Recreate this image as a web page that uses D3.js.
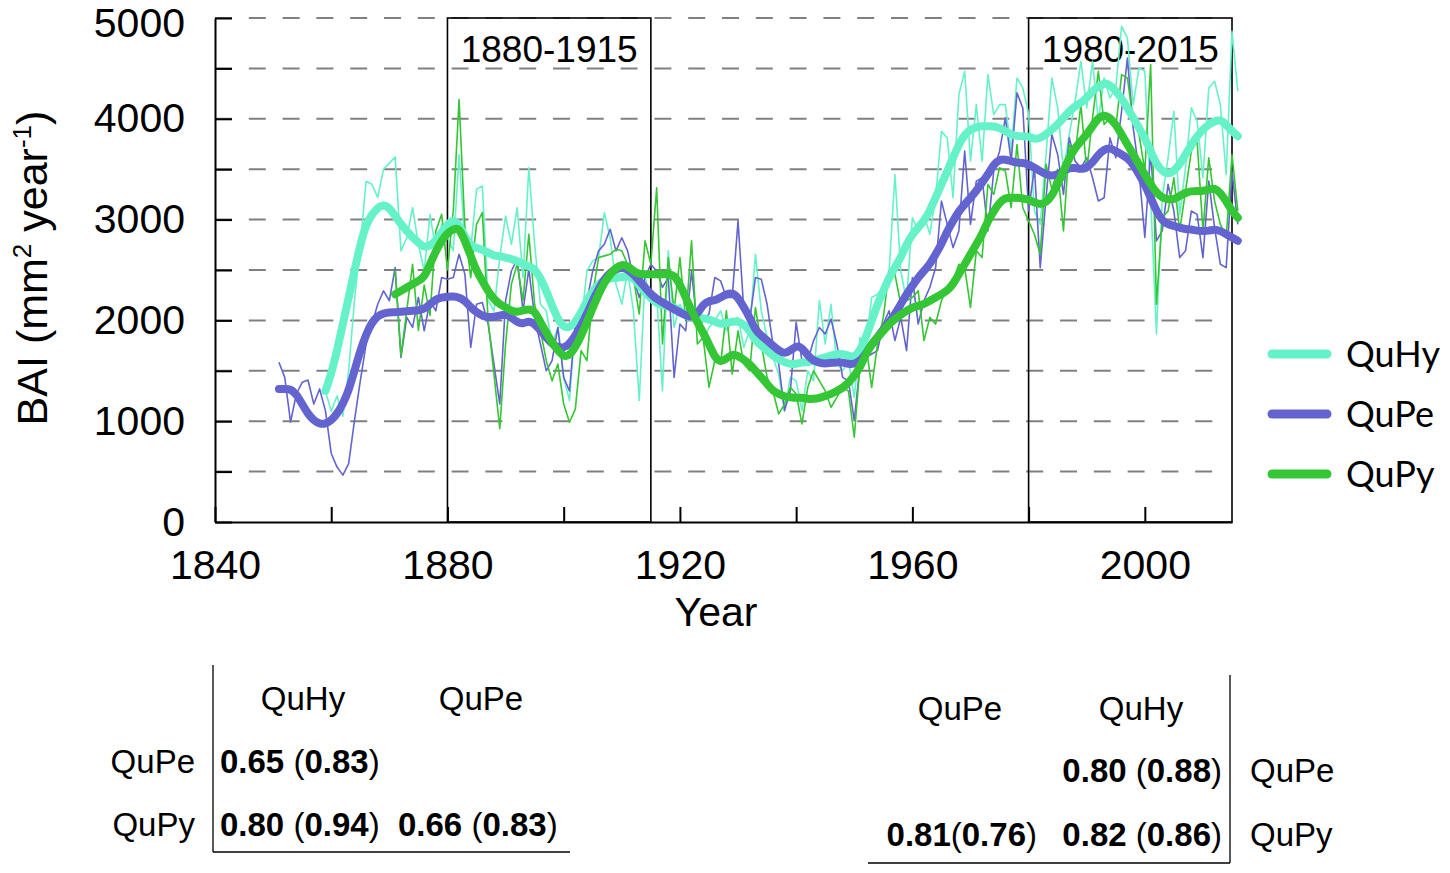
<!DOCTYPE html>
<html>
<head>
<meta charset="utf-8">
<script src="https://cdn.jsdelivr.net/npm/d3@7"></script>
<style>
  body { margin: 0; background: #fff; }
  text { font-family: "Liberation Sans", Arial, sans-serif; fill: #000; }
  .legend text { font-family: Lato, "Open Sans", sans-serif; }
</style>
</head>
<body>
<div id="chart"></div>
<script>

// data

const FIRST_YEAR_QUPE = 1851;
const FIRST_YEAR_QUHY = 1859;
const FIRST_YEAR_QUPY = 1871;

// yearly BAI values
const QUPE_ANNUAL = [
  1584, 1435, 990, 1270, 1386, 1409, 1170, 1320, 1105,
  680, 545, 465, 580, 1006, 1400, 1765, 1963, 2160, 2293,
  2195, 2524, 1633, 2030, 1930, 2228, 1897, 2195, 2095, 2425,
  2409, 2425, 2656, 2458, 1733, 2160, 2178, 1964, 1567, 1170,
  2195, 2490, 2607, 2095, 2508, 2030, 1766, 1500, 1600, 1930,
  1435, 1300, 1980, 1900, 2195, 2490, 2690, 2755, 2904, 2690,
  2820, 2690, 2425, 2228, 2425, 2557, 2490, 2327, 2425, 1435,
  1964, 1897, 2490, 1930, 1997, 2063, 2425, 2392, 2228, 2228,
  2987, 2095, 1997, 2425, 2409, 2160, 1766, 1567, 1105, 1300,
  1980, 1600, 1600, 1800, 1930, 1865, 2013, 1766, 1435, 1400,
  1006, 1567, 1633, 1667, 1700, 1964, 2095, 1800, 2030, 1700,
  2425, 1964, 2195, 2327, 2524, 3184, 2953, 2722, 2888, 3679,
  2953, 3382, 3415, 2888, 3481, 3679, 4010, 3580, 4257, 4108,
  3085, 3514, 2524, 3217, 3845, 3646, 3250, 3811, 3580, 3514,
  3613, 3415, 3184, 3217, 3811, 3613, 4075, 4603, 3910, 3481,
  2822, 3679, 2789, 2888, 3350, 3085, 2623, 2690, 3085, 3052,
  2623, 3382, 2920, 2557, 2524, 3481, 2953
];

const QUHY_ANNUAL = [
  1300,
  1100, 1250, 1050, 1500, 2200, 2755, 3380, 3350, 3220, 3500,
  3560, 3620, 2690, 2820, 3120, 2755, 2490, 3050, 2700, 2950,
  2820, 2690, 3646, 2755, 2700, 3300, 3333, 2195, 2095, 2623,
  3036, 2755, 3118, 2425, 3514, 2755, 2160, 2095, 1766, 1930,
  1435, 1205, 1964, 1964, 2490, 2590, 2623, 3069, 2820, 2360,
  2160, 2490, 2095, 1205, 2425, 2228, 2260, 1300, 2690, 1930,
  2160, 1997, 2160, 1930, 1800, 1930, 1997, 2095, 1897, 1997,
  2030, 1733, 1900, 2656, 2095, 1832, 1633, 1468, 1105, 1435,
  1400, 1105, 1500, 1400, 2195, 1766, 2160, 1567, 1500, 1600,
  1237, 1830, 1765, 2228, 2260, 2327, 2490, 3448, 2490, 2195,
  3019, 2888, 3052, 2855, 3217, 3877, 3811, 3217, 4240, 4471,
  3580, 4141, 3580, 4438, 4042, 4141, 4141, 3679, 4405, 4306,
  4050, 3085, 2953, 3646, 4405, 4108, 3481, 3845, 4174, 4570,
  4108, 4570, 3976, 4405, 4207, 4306, 4917, 4800, 4141, 4505,
  4471, 3217, 1865, 3217, 3613, 4075, 3052, 3514, 4108, 3976,
  3415, 4306, 4372, 4141, 3448, 4867, 4273
];

const QUPY_ANNUAL = [
  2500, 1650, 2100, 2557, 1900, 2350, 2050, 2888, 3052,
  2500, 3085, 4190, 2920, 2425, 2953, 3070, 2000, 1470, 925,
  1765, 2360, 2557, 2195, 2855, 2160, 1900, 1600, 1400, 1567,
  1170, 990, 1120, 1700, 1600, 2260, 2623, 2640, 2656, 2706,
  2690, 2557, 2425, 2063, 2790, 2557, 3316, 1766, 2623, 2095,
  2623, 1997, 2790, 1766, 1830, 1336, 1600, 1567, 2095, 1468,
  1897, 1567, 1500, 2128, 1766, 1435, 1300, 1072, 1170, 1336,
  1270, 973, 1336, 1500, 1400, 1300, 1138, 1237, 1336, 1300,
  841, 1567, 1765, 1336, 1765, 2030, 2490, 2458, 2160, 2195,
  2228, 2293, 1800, 2030, 1964, 2195, 2327, 2392, 2557, 2524,
  2128, 2690, 2623, 3350, 3250, 3514, 3481, 3118, 3745, 3118,
  2987, 2855, 2656, 3550, 3300, 3500, 2888, 3745, 3646, 4141,
  3481, 4010, 4471, 3943, 4010, 3910, 4438, 4405, 3976, 3845,
  3481, 4538, 2160, 3019, 3085, 3415, 2888, 3283, 3679, 3778,
  2888, 3613, 3184, 2953, 2822, 3646, 3085
];

// smoothed trend (thick lines)
const QUPE_TREND = [
  1320, 1320, 1320, 1270, 1170, 1072, 1006, 973, 973,
  1006, 1072, 1170, 1303, 1500, 1700, 1864, 1980, 2046, 2069,
  2079, 2080, 2085, 2090, 2095, 2100, 2112, 2160, 2211, 2228,
  2234, 2240, 2228, 2195, 2128, 2080, 2046, 2030, 2036, 2046,
  2063, 2030, 1980, 1964, 1997, 1964, 1898, 1832, 1766, 1733,
  1726, 1766, 1848, 1947, 2063, 2195, 2310, 2410, 2475, 2508,
  2525, 2508, 2458, 2392, 2327, 2260, 2211, 2180, 2145, 2110,
  2080, 2050, 2030, 2060, 2160, 2195, 2195, 2228, 2260, 2277,
  2228, 2130, 2030, 1900, 1850, 1800, 1750, 1700, 1667, 1700,
  1750, 1733, 1650, 1600, 1580, 1570, 1580, 1584, 1584, 1567,
  1567, 1600, 1667, 1765, 1830, 1914, 1980, 2063, 2160, 2260,
  2343, 2425, 2490, 2557, 2656, 2755, 2888, 2987, 3085, 3150,
  3217, 3283, 3366, 3448, 3547, 3597, 3597, 3580, 3564, 3564,
  3547, 3514, 3481, 3448, 3432, 3448, 3481, 3514, 3514, 3498,
  3514, 3564, 3646, 3696, 3712, 3679, 3646, 3613, 3547, 3448,
  3350, 3217, 3085, 2987, 2953, 2937, 2920, 2904, 2904, 2888,
  2888, 2888, 2904, 2888, 2855, 2822, 2789
];

const QUHY_TREND = [
  1300,
  1468, 1700, 1963, 2228, 2490, 2755, 2953, 3052, 3118, 3150,
  3118, 3036, 2953, 2888, 2822, 2772, 2722, 2740, 2790, 2870,
  2953, 3003, 2950, 2830, 2740, 2720, 2700, 2673, 2640, 2640,
  2623, 2610, 2590, 2557, 2540, 2508, 2425, 2293, 2145, 2013,
  1930, 1930, 1980, 2079, 2195, 2293, 2360, 2400, 2420, 2420,
  2430, 2440, 2420, 2350, 2280, 2220, 2170, 2150, 2140, 2130,
  2100, 2050, 2030, 2030, 2020, 2010, 1990, 1960, 1975, 1990,
  1990, 1960, 1900, 1800, 1750, 1700, 1650, 1617, 1584, 1567,
  1567, 1584, 1584, 1600, 1617, 1633, 1650, 1667, 1667, 1650,
  1633, 1700, 1830, 1997, 2160, 2293, 2425, 2524, 2623, 2755,
  2855, 2920, 2987, 3085, 3217, 3350, 3481, 3613, 3745, 3845,
  3894, 3917, 3927, 3927, 3927, 3910, 3877, 3845, 3828, 3828,
  3828, 3795, 3811, 3845, 3894, 3943, 4010, 4075, 4125, 4158,
  4207, 4273, 4323, 4356, 4340, 4273, 4207, 4108, 4010, 3910,
  3811, 3679, 3547, 3481, 3448, 3481, 3547, 3646, 3745, 3828,
  3894, 3943, 3976, 3993, 3943, 3877, 3828
];

const QUPY_TREND = [
  2260, 2293, 2327, 2360, 2392, 2425, 2557, 2690, 2790,
  2870, 2904, 2920, 2790, 2640, 2490, 2390, 2290, 2210, 2160,
  2130, 2095, 2080, 2100, 2112, 2095, 1980, 1880, 1780, 1700,
  1640, 1650, 1732, 1848, 1980, 2128, 2260, 2376, 2458, 2524,
  2557, 2540, 2490, 2458, 2458, 2458, 2458, 2458, 2460, 2450,
  2360, 2228, 2095, 1980, 1880, 1765, 1633, 1584, 1620, 1667,
  1650, 1610, 1567, 1500, 1435, 1370, 1300, 1270, 1244, 1237,
  1230, 1237, 1220, 1220, 1230, 1250, 1270, 1300, 1330, 1380,
  1450, 1534, 1667, 1765, 1830, 1897, 1963, 2013, 2056, 2095,
  2128, 2145, 2160, 2195, 2228, 2260, 2293, 2360, 2458, 2557,
  2656, 2755, 2855, 2987, 3085, 3168, 3217, 3217, 3217, 3210,
  3200, 3168, 3150, 3168, 3234, 3350, 3481, 3613, 3712, 3778,
  3845, 3927, 4010, 4042, 4010, 3943, 3845, 3745, 3646, 3547,
  3448, 3350, 3267, 3217, 3200, 3200, 3234, 3267, 3283, 3283,
  3283, 3300, 3316, 3267, 3184, 3085, 3019
];

const SERIES_NAMES = ["QuHy", "QuPe", "QuPy"];

// axis ticks and labels
const Y_TICKS = [0, 500, 1000, 1500, 2000, 2500, 3000, 3500, 4000, 4500, 5000];
const Y_LABELS = [0, 1000, 2000, 3000, 4000, 5000];
const X_TICKS = [1840, 1860, 1880, 1900, 1920, 1940, 1960, 1980, 2000];
const X_LABELS = [1840, 1880, 1920, 1960, 2000];

// highlighted periods
const PERIODS = [[1880, 1915], [1980, 2015]];

// correlation tables (bold value, value in brackets)
const TABLE_EARLY_COLS = ["QuHy", "QuPe"];
const TABLE_EARLY_ROWS = ["QuPe", "QuPy"];
const TABLE_EARLY_VALUES = [
  [["0.65", "0.83"], null],
  [["0.80", "0.94"], ["0.66", "0.83"]]
];
const TABLE_LATE_COLS = ["QuPe", "QuHy"];
const TABLE_LATE_ROWS = ["QuPe", "QuPy"];
const TABLE_LATE_VALUES = [
  [null, ["0.80", "0.88"]],
  [["0.81", "0.76"], ["0.82", "0.86"]]
];


// frame constants

const FRAME_WIDTH = 1450;
const FRAME_HEIGHT = 873;
const PLOT = {left: 215, right: 1232, top: 18, bottom: 522};
const COLORS = {QuHy: "#66F2C8", QuPe: "#6464D0", QuPy: "#34C634"};

const FRAME = d3.select("#chart")
                .append("svg")
                  .attr("width", FRAME_WIDTH)
                  .attr("height", FRAME_HEIGHT);

const X_SCALE = d3.scaleLinear()
                  .domain([1840, 2015])
                  .range([PLOT.left, PLOT.right]);

const Y_SCALE = d3.scaleLinear()
                  .domain([0, 5000])
                  .range([PLOT.bottom, PLOT.top]);


// dashed grid (first dash sits under the black tick)
FRAME.append("g")
  .selectAll("line")
  .data(Y_TICKS.filter((d) => d > 0))
  .enter()
  .append("line")
    .attr("x1", PLOT.left)
    .attr("x2", 1213)
    .attr("y1", (d) => Y_SCALE(d))
    .attr("y2", (d) => Y_SCALE(d))
    .attr("stroke", "#808080")
    .attr("stroke-width", 2)
    .attr("stroke-dasharray", "17,16.8");


// y axis, ticks pointing into the plot
const Y_AXIS = FRAME.append("g")
  .attr("transform", "translate(" + PLOT.left + ",0)")
  .call(d3.axisLeft(Y_SCALE)
          .tickValues(Y_TICKS)
          .tickSize(-17)
          .tickSizeOuter(0)
          .tickPadding(30)
          .tickFormat((d) => Y_LABELS.includes(d) ? d : ""));

// x axis, ticks pointing up
const X_AXIS = FRAME.append("g")
  .attr("transform", "translate(0," + PLOT.bottom + ")")
  .call(d3.axisBottom(X_SCALE)
          .tickValues(X_TICKS)
          .tickSize(-15)
          .tickSizeOuter(0)
          .tickPadding(28)
          .tickFormat((d) => X_LABELS.includes(d) ? d : ""));

[Y_AXIS, X_AXIS].forEach((ax) => {
  ax.select(".domain").attr("stroke", "#000").attr("stroke-width", 2);
  ax.selectAll(".tick line").attr("stroke", "#000").attr("stroke-width", 2);
  ax.selectAll(".tick text")
    .attr("font-size", "41px")
    .attr("font-family", "Liberation Sans, Arial, sans-serif")
    .attr("fill", "#000");
});

// the top label would touch the page edge, nudge it down a little
Y_AXIS.selectAll(".tick text")
  .filter((d) => d === 5000)
  .attr("dy", "0.45em");

// axis titles
FRAME.append("text")
  .attr("x", 716)
  .attr("y", 626)
  .attr("text-anchor", "middle")
  .attr("font-size", "41px")
  .text("Year");

const Y_TITLE = FRAME.append("text")
  .attr("transform", "translate(47,268) rotate(-90)")
  .attr("text-anchor", "middle")
  .attr("font-size", "43px");
Y_TITLE.append("tspan").text("BAI (mm");
Y_TITLE.append("tspan").attr("font-size", "26px").attr("dy", -16).text("2");
Y_TITLE.append("tspan").attr("dy", 16).text(" year");
Y_TITLE.append("tspan").attr("font-size", "26px").attr("dy", -16).text("-1");
Y_TITLE.append("tspan").attr("dy", 16).text(")");


// period boxes
FRAME.append("g")
  .selectAll("rect")
  .data(PERIODS)
  .enter()
  .append("rect")
    .attr("x", (d) => X_SCALE(d[0]))
    .attr("y", Y_SCALE(5000))
    .attr("width", (d) => X_SCALE(d[1]) - X_SCALE(d[0]))
    .attr("height", Y_SCALE(0) - Y_SCALE(5000))
    .attr("fill", "none")
    .attr("stroke", "#000")
    .attr("stroke-width", 1.6);

FRAME.append("g")
  .selectAll("text")
  .data(PERIODS)
  .enter()
  .append("text")
    .attr("x", (d) => (X_SCALE(d[0]) + X_SCALE(d[1])) / 2)
    .attr("y", 62)
    .attr("text-anchor", "middle")
    .attr("font-size", "37px")
    .text((d) => d[0] + "-" + d[1]);


// series lines
function toPoints(values, start) {
  return values.map((v, i) => ({year: start + i, value: v}));
}

const SERIES = [
  {name: "QuHy", annual: toPoints(QUHY_ANNUAL, FIRST_YEAR_QUHY), trend: toPoints(QUHY_TREND, FIRST_YEAR_QUHY)},
  {name: "QuPe", annual: toPoints(QUPE_ANNUAL, FIRST_YEAR_QUPE), trend: toPoints(QUPE_TREND, FIRST_YEAR_QUPE)},
  {name: "QuPy", annual: toPoints(QUPY_ANNUAL, FIRST_YEAR_QUPY), trend: toPoints(QUPY_TREND, FIRST_YEAR_QUPY)}
];

const THIN_LINE = d3.line()
  .x((d) => X_SCALE(d.year))
  .y((d) => Y_SCALE(d.value));

const THICK_LINE = d3.line()
  .curve(d3.curveBasis)
  .x((d) => X_SCALE(d.year))
  .y((d) => Y_SCALE(d.value));

FRAME.append("g")
  .selectAll("path")
  .data(SERIES)
  .enter()
  .append("path")
    .attr("d", (d) => THIN_LINE(d.annual))
    .attr("fill", "none")
    .attr("stroke", (d) => COLORS[d.name])
    .attr("stroke-width", 1.6)
    .attr("stroke-linejoin", "round");

FRAME.append("g")
  .selectAll("path")
  .data(SERIES)
  .enter()
  .append("path")
    .attr("d", (d) => THICK_LINE(d.trend))
    .attr("fill", "none")
    .attr("stroke", (d) => COLORS[d.name])
    .attr("stroke-width", 8)
    .attr("stroke-linejoin", "round")
    .attr("stroke-linecap", "round");


// legend
const LEGEND = FRAME.append("g").attr("class", "legend");
const LEGEND_ITEMS = LEGEND.selectAll("g")
  .data(SERIES_NAMES)
  .enter()
  .append("g")
    .attr("transform", (d, i) => "translate(1272," + (354 + i * 60) + ")");

LEGEND_ITEMS.append("line")
  .attr("x1", 0)
  .attr("x2", 55)
  .attr("stroke", (d) => COLORS[d])
  .attr("stroke-width", 9)
  .attr("stroke-linecap", "round");

LEGEND_ITEMS.append("text")
  .attr("x", 74)
  .attr("dy", "0.36em")
  .attr("font-size", "36px")
  .text((d) => d);


// correlation tables
function addCell(g, x, y, anchor, pair) {
  const t = g.append("text")
    .attr("x", x)
    .attr("y", y)
    .attr("text-anchor", anchor)
    .attr("font-size", "33px");
  const gap = (pair[0] === "0.81") ? "" : " ";
  t.append("tspan").attr("font-weight", "bold").text(pair[0]);
  t.append("tspan").text(gap + "(");
  t.append("tspan").attr("font-weight", "bold").text(pair[1]);
  t.append("tspan").text(")");
}

function drawTable(cfg) {
  const g = FRAME.append("g");

  g.append("line")
    .attr("x1", cfg.vx).attr("x2", cfg.vx)
    .attr("y1", cfg.top).attr("y2", cfg.bottom)
    .attr("stroke", "#000").attr("stroke-width", 1.3);
  g.append("line")
    .attr("x1", cfg.hx[0]).attr("x2", cfg.hx[1])
    .attr("y1", cfg.bottom).attr("y2", cfg.bottom)
    .attr("stroke", "#000").attr("stroke-width", 1.3);

  cfg.cols.forEach((c, i) => {
    g.append("text")
      .attr("x", cfg.colCenters[i])
      .attr("y", cfg.headY)
      .attr("text-anchor", "middle")
      .attr("font-size", "33px")
      .text(c);
  });

  cfg.rows.forEach((r, j) => {
    g.append("text")
      .attr("x", cfg.rowLabelX)
      .attr("y", cfg.rowY[j])
      .attr("text-anchor", cfg.rowLabelAnchor)
      .attr("font-size", "33px")
      .text(r);
    cfg.values[j].forEach((pair, i) => {
      if (pair) addCell(g, cfg.cellX[i], cfg.rowY[j], cfg.cellAnchor, pair);
    });
  });
}

drawTable({
  cols: TABLE_EARLY_COLS, rows: TABLE_EARLY_ROWS, values: TABLE_EARLY_VALUES,
  vx: 213, top: 665, bottom: 852, hx: [213, 570],
  colCenters: [303, 481], headY: 710,
  rowLabelX: 195, rowLabelAnchor: "end", rowY: [773, 836],
  cellX: [220, 398], cellAnchor: "start"
});

drawTable({
  cols: TABLE_LATE_COLS, rows: TABLE_LATE_ROWS, values: TABLE_LATE_VALUES,
  vx: 1230, top: 675, bottom: 863, hx: [868, 1230],
  colCenters: [960, 1141], headY: 720,
  rowLabelX: 1250, rowLabelAnchor: "start", rowY: [782, 846],
  cellX: [1037, 1222], cellAnchor: "end"
});

</script>
</body>
</html>
